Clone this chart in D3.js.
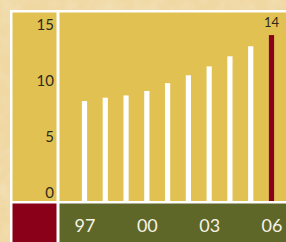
<!DOCTYPE html>
<html>
<head>
<meta charset="utf-8">
<script src="https://cdn.jsdelivr.net/npm/d3@7"></script>
<style>
  body { margin: 0; background: #efd6a0; }
  svg { display: block; }
  text { font-family: Lato, "Open Sans", sans-serif; }
</style>
</head>
<body>
<div id="chart"></div>
<script>
// data
const years = ["97", "98", "99", "00", "01", "02", "03", "04", "05", "06"];
const values = [8.2, 8.5, 8.7, 9.1, 9.8, 10.5, 11.3, 12.2, 13.1, 14.1];
const yTicks = [0, 5, 10, 15];
const xTickLabels = ["97", "00", "03", "06"];

const W = 286, H = 242;

let svg = d3.select("#chart")
    .append("svg")
    .attr("width", W)
    .attr("height", H);

// parchment texture
const defs = svg.append("defs");
const f = defs.append("filter").attr("id", "paper");
f.append("feTurbulence").attr("type", "fractalNoise").attr("baseFrequency", 0.06).attr("numOctaves", 3).attr("seed", 4);
f.append("feColorMatrix").attr("values", "0 0 0 0 0.90  0 0 0 0 0.78  0 0 0 0 0.54  0 0 0 -1.1 0.65");
svg.append("rect").attr("width", W).attr("height", H).attr("fill", "#f0d8a3");
svg.append("rect").attr("width", W).attr("height", H).attr("filter", "url(#paper)");

// frame
const panelLeft = 12.5, panelTop = 12.5, gap = 3;
const leftW = 44;
const plotX = panelLeft + leftW + gap;
const plotBottom = 201;
const footTop = plotBottom + 2.5;

svg.append("rect").attr("x", 10).attr("y", 10).attr("width", W - 10).attr("height", H - 10).attr("fill", "#fff");
svg.append("rect").attr("x", panelLeft).attr("y", panelTop).attr("width", leftW).attr("height", plotBottom - panelTop).attr("fill", "#e1c152");
svg.append("rect").attr("x", plotX).attr("y", panelTop).attr("width", W - plotX).attr("height", plotBottom - panelTop).attr("fill", "#e1c152");
svg.append("rect").attr("x", panelLeft).attr("y", footTop).attr("width", leftW).attr("height", H - footTop).attr("fill", "#8a0019");
svg.append("rect").attr("x", plotX).attr("y", footTop).attr("width", W - plotX).attr("height", H - footTop).attr("fill", "#5e6628");

// scales
const x = d3.scalePoint().domain(years).range([84.5, 271.5]);
const y = d3.scaleLinear().domain([0, 15]).range([192.7, 25]);

// bars
svg.selectAll(".bar")
    .data(values)
    .enter().append("rect")
    .attr("class", "bar")
    .attr("x", (d, i) => x(years[i]) - 2.6)
    .attr("width", 5.2)
    .attr("y", d => y(d))
    .attr("height", d => plotBottom - y(d))
    .attr("fill", (d, i) => i === values.length - 1 ? "#8a0019" : "#fff");

// last value label
const last = values.length - 1;
svg.append("text")
    .attr("x", x(years[last]))
    .attr("y", y(values[last]) - 8.5)
    .attr("text-anchor", "middle")
    .style("font-size", "13px")
    .style("fill", "#2e2a1c")
    .text(Math.round(values[last]));

// y axis labels
svg.append("g")
    .attr("transform", "translate(" + 54 + ",0)")
    .call(d3.axisLeft(y).tickValues(yTicks).tickSize(0).tickPadding(0))
    .call(g => g.select(".domain").remove())
    .selectAll("text")
    .style("font-family", "Lato, 'Open Sans', sans-serif")
    .style("font-size", "15px")
    .style("fill", "#2e2a1c");

// x axis labels
svg.append("g")
    .attr("transform", "translate(0," + 226 + ")")
    .call(d3.axisBottom(x).tickValues(xTickLabels).tickSize(0).tickPadding(0))
    .call(g => g.select(".domain").remove())
    .selectAll("text")
    .attr("dy", "0.35em")
    .style("font-family", "Lato, 'Open Sans', sans-serif")
    .style("font-size", "18px")
    .style("fill", "#f6f3e6");
</script>
</body>
</html>
